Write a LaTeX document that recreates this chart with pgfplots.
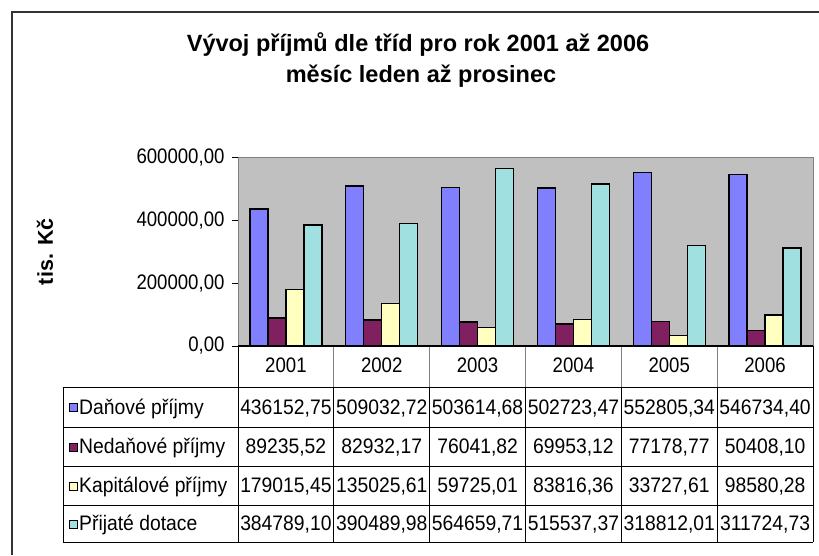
\documentclass[border=0pt]{standalone}
\usepackage{pgfplots}
\pgfplotsset{compat=1.18}
\usepackage{pgfplotstable}
\usepackage{fontspec}
\setmainfont{Liberation Sans}
\newfontfamily\tickfam[FakeStretch=0.886]{Liberation Sans}
\newfontfamily\tabfam[FakeStretch=0.92]{Liberation Sans}
\definecolor{cA}{HTML}{8080FF}
\definecolor{cB}{HTML}{802060}
\definecolor{cC}{HTML}{FFFFC0}
\definecolor{cD}{HTML}{A0E0E0}
\definecolor{bgc}{HTML}{C0C0C0}
\definecolor{framec}{HTML}{333333}
\definecolor{gridc}{HTML}{808080}

\pgfplotstableread{
x dan ned kap dot
0 436152.75 89235.52 179015.45 384789.10
1 509032.72 82932.17 135025.61 390489.98
2 503614.68 76041.82 59725.01 564659.71
3 502723.47 69953.12 83816.36 515537.37
4 552805.34 77178.77 33727.61 318812.01
5 546734.40 50408.10 98580.28 311724.73
}\data

\newcommand{\tabfont}{\tabfam\fontsize{21}{24}\selectfont}
\newcommand{\tickfont}{\tickfam\fontsize{21}{24}\selectfont}
\newcommand{\cv}[3]{\node[anchor=base, font=\tabfont, inner sep=0pt] at ({238+95.833*(#1+0.5)},{#2-7}) {#3};}

\begin{document}
\begin{tikzpicture}[x=1pt,y=1pt]
\useasboundingbox (0,0) rectangle (819,555);
\draw[framec, line width=2pt] (12,0) -- (12,543) -- (819,543);
\node[anchor=base, font=\bfseries\fontsize{23.5}{26}\selectfont] at (418,503) {Vývoj příjmů dle tříd pro rok 2001 až 2006};
\node[anchor=base, font=\bfseries\fontsize{23.5}{26}\selectfont] at (421,472) {měsíc leden až prosinec};

\begin{axis}[
  at={(238pt,209pt)}, anchor=south west,
  scale only axis, width=575pt, height=188.5pt,
  xmin=-0.5, xmax=5.5, ymin=0, ymax=600000,
  ybar=0pt, bar width=18pt,
  axis background/.style={fill=bgc},
  axis line style={gridc, line width=1pt},
  ytick={0,200000,400000,600000},
  ytick pos=left,
  scaled y ticks=false,
  yticklabel={\pgfmathprintnumber[fixed, fixed zerofill, precision=2, use comma, 1000 sep={}, assume math mode=true]{\tick}},
  yticklabel style={font=\tickfont, xshift=-4pt},
  tick align=outside,
  major tick length=6pt,
  ytick style={black, line width=1pt},
  xtick={0,1,2,3,4,5},
  xticklabels={2001,2002,2003,2004,2005,2006},
  xtick style={draw=none},
  xticklabel style={font=\tickfont, anchor=base, yshift=-20pt},
  ylabel={\bfseries tis. Kč},
  ylabel style={font=\fontsize{21.5}{24}\selectfont, at={(axis description cs:-0.3357,0.5)}, anchor=center},
  clip=false,
]
\addplot[fill=cA, draw=black, line width=1.3pt] table[x=x,y=dan]{\data};
\addplot[fill=cB, draw=black, line width=1.3pt] table[x=x,y=ned]{\data};
\addplot[fill=cC, draw=black, line width=1.3pt] table[x=x,y=kap]{\data};
\addplot[fill=cD, draw=black, line width=1.3pt] table[x=x,y=dot]{\data};
\end{axis}

% data table grid
\foreach \k in {1,...,5} {
  \draw[gridc, line width=1pt] ({238+95.833*\k},209) -- ({238+95.833*\k},168);
  \draw[black, line width=1pt] ({238+95.833*\k},168) -- ({238+95.833*\k},13);
}
\draw[black, line width=1.2pt] (238,209) -- (813,209);
\draw[black, line width=1pt] (238,209) -- (238,13);
\draw[black, line width=1pt] (813,209) -- (813,13);
\draw[black, line width=1pt] (63,168) -- (63,13);
\foreach \yy in {168,128,89,50,13} {
  \draw[black, line width=1pt] (63,\yy) -- (813,\yy);
}
% legend keys and names
\foreach \yc/\col/\name in {148/cA/{Daňové příjmy},108.5/cB/{Nedaňové příjmy},69.5/cC/{Kapitálové příjmy},31.5/cD/{Přijaté dotace}} {
  \draw[black, line width=0.8pt, fill=\col] (69,\yc-4.5) rectangle (77,\yc+3.5);
  \node[anchor=base west, inner sep=0pt, font=\tabfont] at (79,\yc-7) {\name};
}
% values
\cv{0}{148}{436152,75}\cv{1}{148}{509032,72}\cv{2}{148}{503614,68}\cv{3}{148}{502723,47}\cv{4}{148}{552805,34}\cv{5}{148}{546734,40}
\cv{0}{108.5}{89235,52}\cv{1}{108.5}{82932,17}\cv{2}{108.5}{76041,82}\cv{3}{108.5}{69953,12}\cv{4}{108.5}{77178,77}\cv{5}{108.5}{50408,10}
\cv{0}{69.5}{179015,45}\cv{1}{69.5}{135025,61}\cv{2}{69.5}{59725,01}\cv{3}{69.5}{83816,36}\cv{4}{69.5}{33727,61}\cv{5}{69.5}{98580,28}
\cv{0}{31.5}{384789,10}\cv{1}{31.5}{390489,98}\cv{2}{31.5}{564659,71}\cv{3}{31.5}{515537,37}\cv{4}{31.5}{318812,01}\cv{5}{31.5}{311724,73}
\end{tikzpicture}
\end{document}
